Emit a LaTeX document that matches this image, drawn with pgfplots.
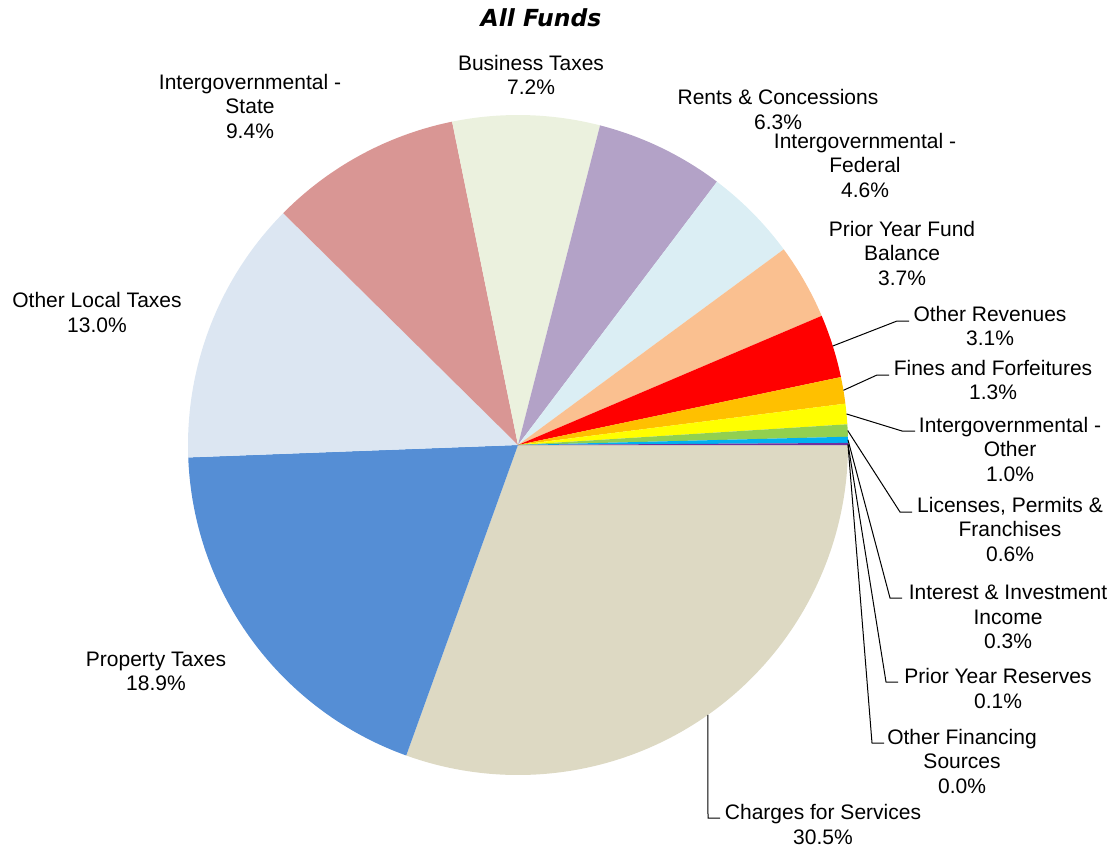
\documentclass[border=0pt]{standalone}
\usepackage{pgfplots}
\pgfplotsset{compat=1.18}
\usepackage{fontspec}
\setmainfont{Liberation Sans}
\newfontfamily\titlefont{DejaVu Sans}
\definecolor{cCharges}{HTML}{DDD9C3}
\definecolor{cProperty}{HTML}{558ED5}
\definecolor{cLocal}{HTML}{DCE6F2}
\definecolor{cState}{HTML}{D99694}
\definecolor{cBusiness}{HTML}{EBF1DE}
\definecolor{cRents}{HTML}{B3A2C7}
\definecolor{cFederal}{HTML}{DBEEF4}
\definecolor{cPYFB}{HTML}{FAC090}
\definecolor{cOtherRev}{HTML}{FF0000}
\definecolor{cFines}{HTML}{FFC000}
\definecolor{cIntOther}{HTML}{FFFF00}
\definecolor{cLicenses}{HTML}{92D050}
\definecolor{cInterest}{HTML}{00B0F0}
\definecolor{cReserves}{HTML}{7030A0}
\definecolor{cOtherFin}{HTML}{002060}
\newcommand\lbl{\fontsize{10.5}{12.25}\selectfont}
\begin{document}
\begin{tikzpicture}
\begin{axis}[
  scale only axis, width=556.5pt, height=423pt,
  xmin=0, xmax=1113, ymin=0, ymax=846, y dir=reverse,
  hide axis, clip=false,
  every node/.style={inner sep=0pt},
]
% pie slices: value (percent) / colour, clockwise from 3 o'clock
\pgfplotsextra{
  \gdef\startang{0}
  \foreach \v/\c in {30.5/cCharges,18.9/cProperty,13.0/cLocal,9.4/cState,7.2/cBusiness,6.3/cRents,4.6/cFederal,3.7/cPYFB,3.1/cOtherRev,1.3/cFines,1.0/cIntOther,0.6/cLicenses,0.3/cInterest,0.1/cReserves}{
    \pgfmathsetmacro\endang{\startang-3.6*\v}
    \fill[\c] (axis cs:518,445) -- ++(\startang:165pt) arc[start angle=\startang, end angle=\endang, radius=165pt] -- cycle;
    \xdef\startang{\endang}
  }
  % leader lines
  \draw[black, line width=0.5pt] (axis cs:518,445) ++(-54.9:165pt) -- (axis cs:708,818) -- (axis cs:720,818);
  \draw[black, line width=0.5pt] (axis cs:518,445) ++(17.46:165pt) -- (axis cs:897,321) -- (axis cs:909,321);
  \draw[black, line width=0.5pt] (axis cs:518,445) ++(9.54:165pt) -- (axis cs:877,375) -- (axis cs:889,375);
  \draw[black, line width=0.5pt] (axis cs:518,445) ++(5.4:165pt) -- (axis cs:902,431) -- (axis cs:915,431);
  \draw[black, line width=0.5pt] (axis cs:518,445) ++(2.52:165pt) -- (axis cs:900,512) -- (axis cs:912,512);
  \draw[black, line width=0.5pt] (axis cs:518,445) ++(0.9:165pt) -- (axis cs:890,598) -- (axis cs:902,598);
  \draw[black, line width=0.5pt] (axis cs:518,445) ++(0.18:165pt) -- (axis cs:886,682) -- (axis cs:898,682);
  \draw[black, line width=0.5pt] (axis cs:518,445) ++(0:165pt) -- (axis cs:872,743) -- (axis cs:884,743);
}
\node[font=\titlefont\bfseries\itshape\fontsize{11.75}{14}\selectfont] at (axis cs:541,18) {All Funds};
\node[align=center, font=\lbl] at (axis cs:531,75) {Business Taxes\\7.2\%};
\node[align=center, font=\lbl] at (axis cs:250,106) {Intergovernmental -\\State\\9.4\%};
\node[align=center, font=\lbl] at (axis cs:778,109.5) {Rents \& Concessions\\6.3\%};
\node[align=center, font=\lbl] at (axis cs:865,165) {Intergovernmental -\\Federal\\4.6\%};
\node[align=center, font=\lbl] at (axis cs:902,253) {Prior Year Fund\\Balance\\3.7\%};
\node[align=center, font=\lbl] at (axis cs:97,312.5) {Other Local Taxes\\13.0\%};
\node[align=center, font=\lbl] at (axis cs:156,671.5) {Property Taxes\\18.9\%};
\node[align=center, font=\lbl] at (axis cs:990,326) {Other Revenues\\3.1\%};
\node[align=center, font=\lbl] at (axis cs:993,380) {Fines and Forfeitures\\1.3\%};
\node[align=center, font=\lbl] at (axis cs:1010,449) {Intergovernmental -\\Other\\1.0\%};
\node[align=center, font=\lbl] at (axis cs:1010,529) {Licenses, Permits \&\\Franchises\\0.6\%};
\node[align=center, font=\lbl] at (axis cs:1008,617) {Interest \& Investment\\Income\\0.3\%};
\node[align=center, font=\lbl] at (axis cs:998,688.5) {Prior Year Reserves\\0.1\%};
\node[align=center, font=\lbl] at (axis cs:962,761) {Other Financing\\Sources\\0.0\%};
\node[align=center, font=\lbl] at (axis cs:823,824.5) {Charges for Services\\30.5\%};
\end{axis}
\pgfresetboundingbox
\path (current axis.south west) rectangle (current axis.north east);
\end{tikzpicture}
\end{document}
